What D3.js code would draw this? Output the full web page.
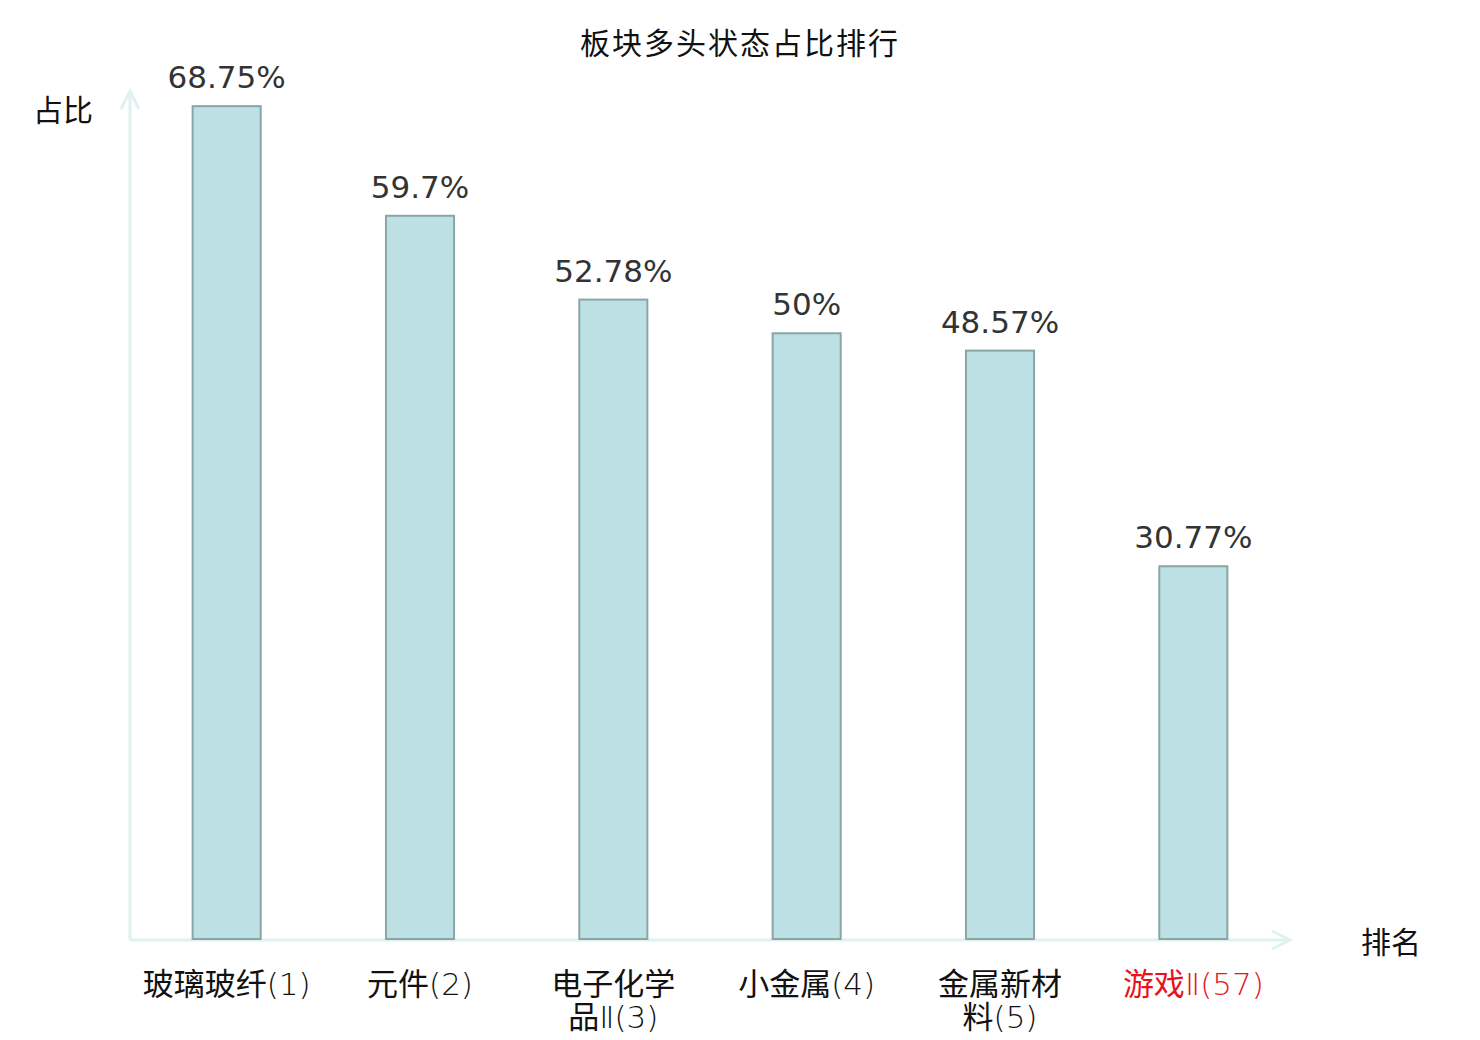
<!DOCTYPE html>
<html>
<head>
<meta charset="utf-8">
<script src="https://cdn.jsdelivr.net/npm/d3@7"></script>
<style>
  body { margin: 0; background: #fff; }
  svg { display: block; }
</style>
</head>
<body>
<div id="chart"></div>
<script>
const categories = ['玻璃玻纤(1)', '元件(2)', '电子化学品Ⅱ(3)', '小金属(4)', '金属新材料(5)', '游戏Ⅱ(57)'];
const labelLines = [['玻璃玻纤(1)'], ['元件(2)'], ['电子化学', '品Ⅱ(3)'], ['小金属(4)'], ['金属新材', '料(5)'], ['游戏Ⅱ(57)']];
const values = [68.75, 59.7, 52.78, 50, 48.57, 30.77];
const valueLabels = ['68.75%', '59.7%', '52.78%', '50%', '48.57%', '30.77%'];
const highlighted = ['游戏Ⅱ(57)'];

const width = 1480, height = 1040;
const plotLeft = 130, plotRight = 1290, plotBottom = 939, plotTop = 91;
const cjk = '"Noto Sans CJK SC", "Noto Sans", sans-serif';

const svg = d3.select('#chart')
  .append('svg')
    .attr('width', width)
    .attr('height', height);

const x = d3.scaleBand()
  .domain(categories)
  .range([plotLeft, plotRight])
  .paddingInner(0.648)
  .paddingOuter(0.324);

const y = d3.scaleLinear()
  .domain([0, 70])
  .range([plotBottom, plotTop]);

// title
svg.append('text')
  .attr('x', width / 2)
  .attr('y', 54)
  .attr('text-anchor', 'middle')
  .attr('font-family', cjk)
  .attr('font-size', 30)
  .attr('letter-spacing', 2)
  .attr('fill', '#111')
  .text('板块多头状态占比排行');

// axes with open arrow heads
const axisColor = '#dff2f0';
const axes = svg.append('g')
  .attr('stroke', axisColor)
  .attr('stroke-width', 3)
  .attr('fill', 'none');

axes.append('line')
  .attr('x1', plotLeft).attr('y1', plotBottom + 1)
  .attr('x2', plotLeft).attr('y2', plotTop);
axes.append('path')
  .attr('d', `M${plotLeft - 9},${plotTop + 18}L${plotLeft},${plotTop}L${plotLeft + 9},${plotTop + 18}`);

axes.append('line')
  .attr('x1', plotLeft).attr('y1', plotBottom + 1)
  .attr('x2', plotRight).attr('y2', plotBottom + 1);
axes.append('path')
  .attr('d', `M${plotRight - 18},${plotBottom - 8}L${plotRight},${plotBottom + 1}L${plotRight - 18},${plotBottom + 10}`);

svg.append('text')
  .attr('x', 63).attr('y', 121)
  .attr('text-anchor', 'middle')
  .attr('font-family', cjk)
  .attr('font-size', 30)
  .attr('fill', '#111')
  .text('占比');

svg.append('text')
  .attr('x', 1391).attr('y', 953)
  .attr('text-anchor', 'middle')
  .attr('font-family', cjk)
  .attr('font-size', 30)
  .attr('fill', '#111')
  .text('排名');

// bars
svg.selectAll('.bar')
  .data(values)
  .enter().append('rect')
    .attr('class', 'bar')
    .attr('x', (d, i) => x(categories[i]))
    .attr('y', d => y(d))
    .attr('width', x.bandwidth())
    .attr('height', d => y(0) - y(d))
    .attr('fill', '#bce0e3')
    .attr('stroke', '#89a6a6')
    .attr('stroke-width', 2);

// value labels
svg.selectAll('.value')
  .data(values)
  .enter().append('text')
    .attr('class', 'value')
    .attr('x', (d, i) => x(categories[i]) + x.bandwidth() / 2)
    .attr('y', d => y(d) - 18)
    .attr('text-anchor', 'middle')
    .attr('font-family', '"DejaVu Sans", sans-serif')
    .attr('font-size', 31)
    .attr('fill', '#333')
    .text((d, i) => valueLabels[i]);

// category labels: CJK in regular weight, latin/numeral runs thin
const cats = svg.selectAll('.cat')
  .data(categories)
  .enter().append('text')
    .attr('class', 'cat')
    .attr('x', d => x(d) + x.bandwidth() / 2)
    .attr('y', 995)
    .attr('text-anchor', 'middle')
    .attr('font-size', 31)
    .attr('fill', d => highlighted.includes(d) ? '#e8141c' : '#111');

const lines = cats.selectAll('.line')
  .data((d, i) => labelLines[i].map(t => ({ t, cx: x(d) + x.bandwidth() / 2 })))
  .enter().append('tspan')
    .attr('class', 'line')
    .attr('x', d => d.cx)
    .attr('dy', (d, i) => i === 0 ? 0 : 33);

lines.selectAll('tspan')
  .data(d => d.t.match(/[\u4e00-\u9fff]+|[^\u4e00-\u9fff]+/g))
  .enter().append('tspan')
    .attr('font-family', s => /[\u4e00-\u9fff]/.test(s) ? cjk : '"DejaVu Sans", sans-serif')
    .attr('font-weight', s => /[\u4e00-\u9fff]/.test(s) ? 400 : 200)
    .text(s => s);
</script>
</body>
</html>
